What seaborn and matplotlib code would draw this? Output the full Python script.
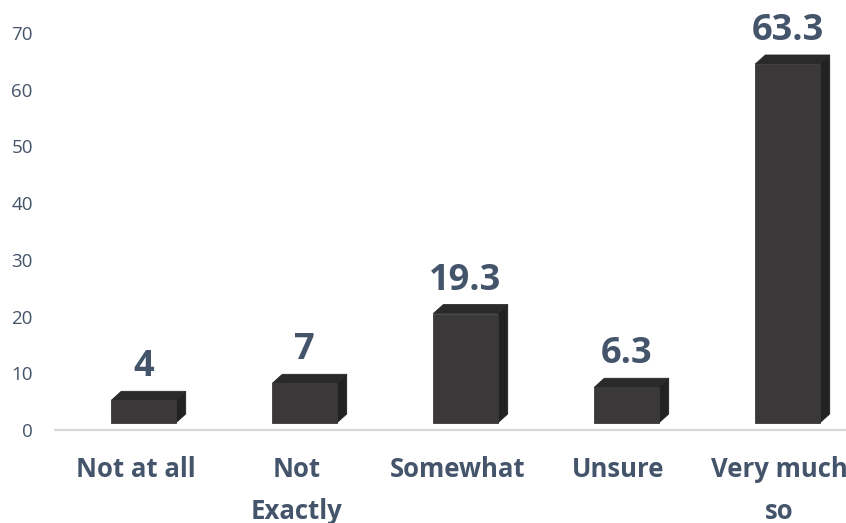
import matplotlib
matplotlib.use("Agg")
import matplotlib.pyplot as plt
from matplotlib.patches import Polygon
from matplotlib.transforms import IdentityTransform
import seaborn as sns
import pandas as pd

categories = ["Not at all", "Not\nExactly", "Somewhat", "Unsure", "Very much\nso"]
values = [4, 7, 19.3, 6.3, 63.3]
value_labels = ["4", "7", "19.3", "6.3", "63.3"]
y_ticks = [0, 10, 20, 30, 40, 50, 60, 70]

TEXT = "#44546A"
FRONT = "#3a3838"
TOP = "#2b2a2a"
SIDE = "#232222"

sns.set_theme(style="white")
plt.rcParams["font.family"] = ["Open Sans", "DejaVu Sans"]

DPI = 100
fig = plt.figure(figsize=(8.46, 5.23), dpi=DPI)
ax = fig.add_axes([55 / 846, 93 / 523, 791 / 846, 397 / 523])

df = pd.DataFrame({"category": categories, "value": values})
sns.barplot(data=df, x="category", y="value", width=0.4, color=FRONT,
            saturation=1, ax=ax, zorder=3)

ax.set_xlim(-0.5, 4.413)
ax.set_ylim(0, 70)
ax.set_yticks(y_ticks)
ax.set_xlabel("")
ax.set_ylabel("")

for s in ["top", "right", "left"]:
    ax.spines[s].set_visible(False)
ax.spines["bottom"].set_color("#d9d9d9")
ax.spines["bottom"].set_linewidth(1.6)

ax.tick_params(axis="y", length=0, pad=16, labelsize=13.5, labelcolor=TEXT)
ax.tick_params(axis="x", length=0, pad=19, labelsize=18.5, labelcolor=TEXT)
for lab in ax.get_xticklabels():
    lab.set_fontweight("bold")
    lab.set_linespacing(1.7)

# pseudo-3D columns: front face shifted, plus top and side faces
base_dx, base_dy = 8, 7      # px shift of the front face
depth_dx, depth_dy = 10, 9   # px depth of the column
to_disp = ax.transData.transform
for patch, label in zip(ax.patches, value_labels):
    x0 = patch.get_x()
    w = patch.get_width()
    h = patch.get_height()
    x1 = x0 + w
    patch.set_visible(False)

    def pt(x, y, back=False):
        px, py = to_disp((x, y))
        px += base_dx + (depth_dx if back else 0)
        py += base_dy + (depth_dy if back else 0)
        return (px, py)

    front = [pt(x0, 0), pt(x1, 0), pt(x1, h), pt(x0, h)]
    top = [pt(x0, h), pt(x1, h), pt(x1, h, True), pt(x0, h, True)]
    side = [pt(x1, 0), pt(x1, 0, True), pt(x1, h, True), pt(x1, h)]
    for verts, col in ((side, SIDE), (top, TOP), (front, FRONT)):
        ax.add_patch(Polygon(verts, closed=True, facecolor=col,
                             edgecolor=col, linewidth=0.6,
                             transform=IdentityTransform(), zorder=4,
                             clip_on=False))

    cx, cy = pt(x0 + w / 2, h)
    ax.text(cx, cy + 24, label, transform=IdentityTransform(),
            ha="center", va="baseline", fontsize=26, fontweight="bold",
            color=TEXT, zorder=5)

fig.savefig("out.png", dpi=DPI)
